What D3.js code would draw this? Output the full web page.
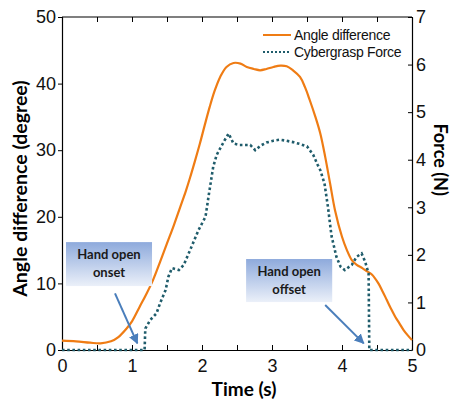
<!DOCTYPE html>
<html><head><meta charset="utf-8">
<script src="https://cdn.jsdelivr.net/npm/d3@7"></script>
<style>body{margin:0;background:#fff}svg{display:block}</style>
</head><body><div id="chart"></div>
<script>
// ---- data ----
const angleTime = [0,0.2,0.4,0.55,0.7,0.8,0.92,1.0,1.11,1.2,1.3,1.4,1.5,1.6,1.69,1.77,1.83,1.9,1.97,2.04,2.11,2.18,2.26,2.35,2.45,2.55,2.64,2.74,2.83,2.92,3.02,3.12,3.21,3.3,3.4,3.47,3.54,3.62,3.69,3.76,3.83,3.9,4.0,4.07,4.14,4.21,4.29,4.36,4.43,4.52,4.58,4.64,4.7,4.76,4.82,4.88,4.94,5.0];
const angleValues = [1.4,1.3,1.1,1.0,1.3,1.9,3.2,4.3,6.5,8.3,10.5,13.2,16,18.8,21.5,23.9,25.9,28.4,31,33.8,36.5,38.9,41,42.5,43.1,43,42.5,42.2,42.0,42.2,42.5,42.7,42.6,42.0,41,39.5,37.5,35,32.5,29,25,21,17,15,13.5,12.8,12.3,11.8,11.3,10,8.8,7.5,6.2,5,4,3,2.2,1.5];
const forceTime = [0,1.18,1.19,1.26,1.35,1.4,1.48,1.52,1.57,1.67,1.74,1.83,1.95,2.05,2.1,2.16,2.21,2.26,2.32,2.38,2.45,2.54,2.62,2.69,2.76,2.84,2.92,3.02,3.11,3.2,3.3,3.4,3.5,3.59,3.65,3.69,3.75,3.8,3.85,3.92,3.98,4.04,4.14,4.21,4.28,4.33,4.38,4.39,4.6,4.8,5.0];
const forceValues = [0,0,0.45,0.63,0.77,0.98,1.26,1.54,1.72,1.68,1.79,2.1,2.52,2.8,3.29,3.85,4.1,4.24,4.4,4.55,4.34,4.31,4.31,4.31,4.2,4.3,4.36,4.4,4.42,4.4,4.37,4.33,4.28,4.1,3.9,3.78,3.5,3.0,2.4,1.96,1.75,1.68,1.79,1.96,2.03,1.86,1.61,0,0,0,0];
const xTicks = [0,1,2,3,4,5];
const xMinorTicks = [0,0.5,1,1.5,2,2.5,3,3.5,4,4.5,5];
const yLeftTicks = [0,10,20,30,40,50];
const yRightTicks = [0,1,2,3,4,5,6,7];
const seriesNames = ["Angle difference","Cybergrasp Force"];
const annotations = [
  {lines:["Hand open","onset"], box:[0.057,1.286,16.2,9.6], from:[0.757,8.5], to:[1.076,1.0]},
  {lines:["Hand open","offset"], box:[2.63,3.86,13.66,7.2], from:[3.76,6.76], to:[4.31,1.0]}
];

const W=452,H=405, m={l:62,t:17,r:40,b:55};
const svg=d3.select("#chart").append("svg").attr("width",W).attr("height",H);
const x=d3.scaleLinear().domain([0,5]).range([m.l,W-m.r]);
const yL=d3.scaleLinear().domain([0,50]).range([H-m.b,m.t]);
const yR=d3.scaleLinear().domain([0,7]).range([H-m.b,m.t]);
const orange="#ef7c14", teal="#1f5c6b";
const tickFont="'Liberation Sans', Arial, sans-serif";
const boldFont="Lato, 'Open Sans', sans-serif";

// defs
const defs=svg.append("defs");
const g=defs.append("linearGradient").attr("id","boxg").attr("x1",0).attr("y1",0).attr("x2",0).attr("y2",1);
g.append("stop").attr("offset","0%").attr("stop-color","#8eaadc");
g.append("stop").attr("offset","100%").attr("stop-color","#ebf0f9");
defs.append("marker").attr("id","arr").attr("viewBox","0 0 10 10").attr("refX",9).attr("refY",5)
  .attr("markerWidth",5).attr("markerHeight",5).attr("orient","auto")
  .append("path").attr("d","M0,0L10,5L0,10z").attr("fill","#4a7ebb");

// axes
svg.append("g").attr("transform",`translate(0,${H-m.b})`)
  .call(d3.axisBottom(x).tickValues(xTicks).tickSize(0).tickPadding(9).tickFormat(d3.format("d")));
svg.append("g").attr("transform",`translate(0,${H-m.b})`)
  .call(d3.axisTop(x).tickValues(xMinorTicks).tickSize(5).tickFormat("")).select(".domain").remove();
svg.append("g").attr("transform",`translate(0,${m.t})`)
  .call(d3.axisBottom(x).tickValues(xMinorTicks).tickSize(5).tickFormat("")).select(".domain").attr("d",`M${m.l},0H${W-m.r}`);
svg.append("g").attr("transform",`translate(${m.l},0)`)
  .call(d3.axisLeft(yL).tickValues(yLeftTicks).tickSize(4).tickPadding(2).tickFormat(d3.format("d")));
svg.append("g").attr("transform",`translate(${W-m.r},0)`)
  .call(d3.axisRight(yR).tickValues(yRightTicks).tickSize(0).tickPadding(4).tickFormat(d3.format("d")));
svg.append("g").attr("transform",`translate(${W-m.r},0)`)
  .call(d3.axisLeft(yR).tickValues(yRightTicks).tickSize(4).tickFormat("")).select(".domain").remove();
svg.selectAll(".domain").attr("stroke","#000").attr("stroke-width",1.2);
svg.selectAll(".tick line").attr("stroke","#000");
svg.selectAll(".tick text").attr("font-family",tickFont).attr("font-size",18).attr("fill","#111");

// titles
svg.append("text").attr("x",x(2.5)+7).attr("y",396).attr("text-anchor","middle")
  .attr("font-family",boldFont).attr("font-weight","bold").attr("font-size",19).text("Time (s)");
svg.append("text").attr("transform",`translate(27,${yL(25)+5}) rotate(-90)`).attr("text-anchor","middle")
  .attr("font-family",boldFont).attr("font-weight","bold").attr("font-size",19.5).text("Angle difference (degree)");
svg.append("text").attr("transform",`translate(434,${yR(4)}) rotate(90)`).attr("text-anchor","middle")
  .attr("font-family",boldFont).attr("font-weight","bold").attr("font-size",18).text("Force  (N)");

// lines
const angleData=angleTime.map((t,i)=>[t,angleValues[i]]);
const forceData=forceTime.map((t,i)=>[t,forceValues[i]]);
svg.append("path").datum(angleData).attr("fill","none").attr("stroke",orange).attr("stroke-width",2.2)
  .attr("d",d3.line().x(d=>x(d[0])).y(d=>yL(d[1])).curve(d3.curveCatmullRom.alpha(0.5)));
svg.append("path").datum(forceData).attr("fill","none").attr("stroke",teal).attr("stroke-width",2.6)
  .attr("stroke-dasharray","2.6,2.6")
  .attr("d",d3.line().x(d=>x(d[0])).y(d=>yR(d[1])).curve(d3.curveLinear));

// legend
const lg=svg.append("g");
seriesNames.forEach((n,i)=>{
  const yy=35+i*17;
  lg.append("line").attr("x1",263).attr("x2",291).attr("y1",yy).attr("y2",yy)
    .attr("stroke",i===0?orange:teal).attr("stroke-width",i===0?2:2.2).attr("stroke-dasharray",i===0?null:"2,2");
  lg.append("text").attr("x",294).attr("y",yy+5).attr("font-family",tickFont).attr("font-size",14)
    .attr("letter-spacing",-0.3).attr("fill","#111").text(n);
});

// annotations
annotations.forEach(a=>{
  const x0=x(a.box[0]),x1=x(a.box[1]),y0=yL(a.box[2]),y1=yL(a.box[3]);
  svg.append("rect").attr("x",x0).attr("y",y0).attr("width",x1-x0).attr("height",y1-y0).attr("fill","url(#boxg)");
  a.lines.forEach((l,i)=>svg.append("text").attr("x",(x0+x1)/2).attr("y",y0+17+i*18).attr("text-anchor","middle")
    .attr("font-family",boldFont).attr("font-weight","bold").attr("font-size",13).attr("fill","#1a1a1a").text(l));
  svg.append("line").attr("x1",x(a.from[0])).attr("y1",yL(a.from[1])).attr("x2",x(a.to[0])).attr("y2",yL(a.to[1]))
    .attr("stroke","#4a7ebb").attr("stroke-width",2).attr("marker-end","url(#arr)");
});
</script></body></html>
